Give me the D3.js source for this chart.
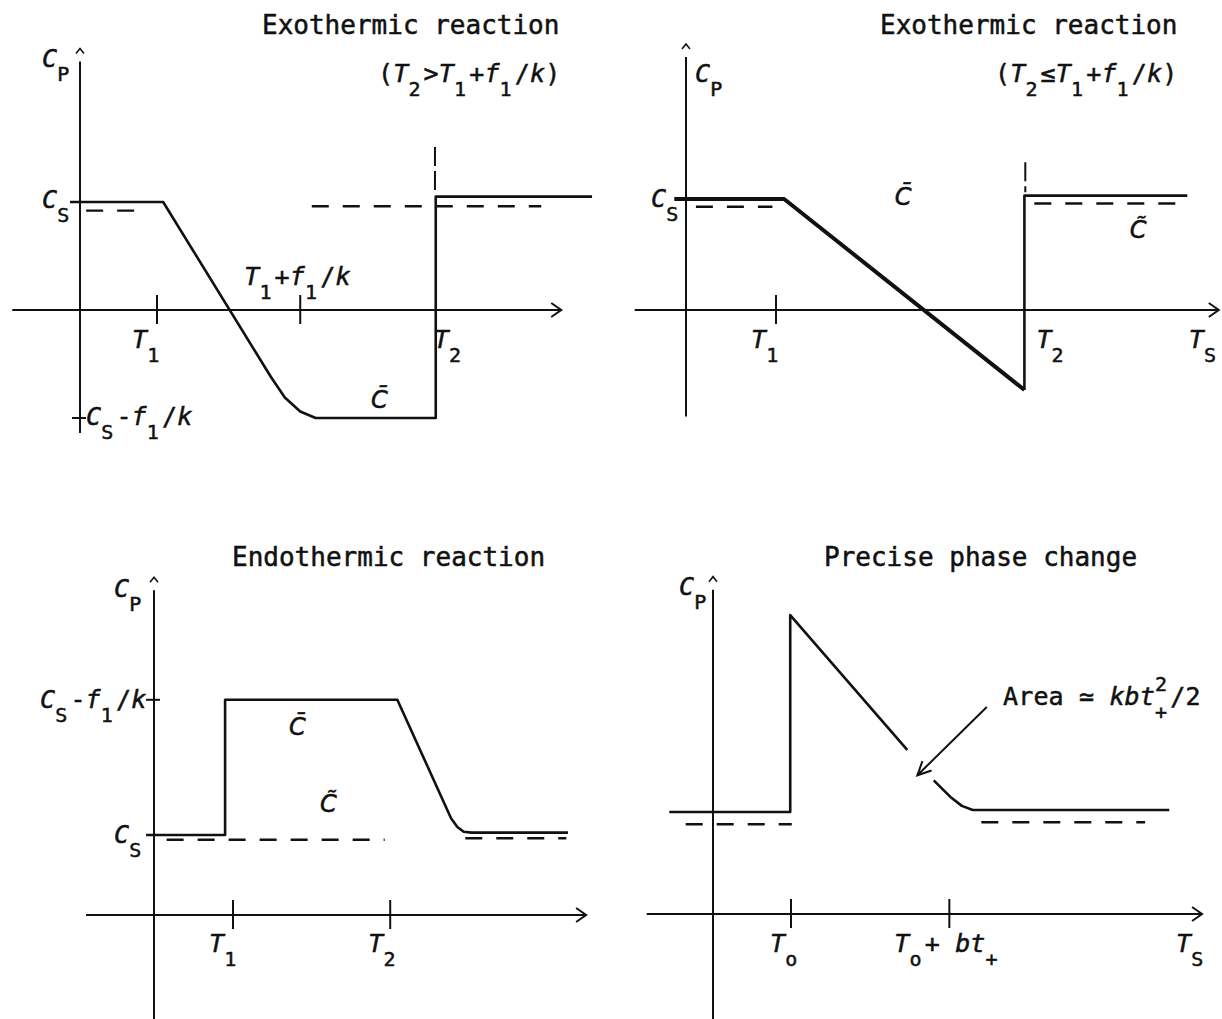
<!DOCTYPE html>
<html>
<head>
<meta charset="UTF-8">
<title>Cp sketches</title>
<script src="https://cdn.jsdelivr.net/npm/d3@7/dist/d3.min.js"></script>
<style>
body { margin:0; background:#fff; }
svg text { font-family:"DejaVu Sans Mono", monospace; fill:#111; stroke:#111; stroke-width:0.5px; }
.axis { fill:none; stroke:#111; stroke-width:2px; }
.curve { fill:none; stroke:#111; stroke-width:2.6px; stroke-linejoin:round; }
.thick { stroke-width:4px; }
.dash { fill:none; stroke:#111; stroke-width:2.4px; stroke-dasharray:17,14; }
.vdash { fill:none; stroke:#111; stroke-width:2px; stroke-dasharray:19,5; }
.title { font-size:26px; }
svg text.acc { font-family:"DejaVu Sans", sans-serif; }
</style>
</head>
<body>
<svg id="fig" width="1222" height="1019"></svg>
<script>
// ---- top left: exothermic, T2 > T1 + f1/k
var p1Curve = [[-0.13,1],[1.08,1],[2.48,-0.62],[2.66,-0.81],[2.86,-0.94],[3.06,-1],[4.62,-1],[4.62,1.05],[6.65,1.05]];
var p1DashA = [[0.08,0.92],[0.72,0.92]];
var p1DashB = [[3.01,0.96],[5.99,0.96]];
var p1Guide = [[4.61,1.51],[4.61,1.07]];
var p1XTicks = [1, 2.86];
var p1YTicks = [-1];
var p1XRange = [-0.88, 6.25], p1YRange = [-1.14, 2.3];

// ---- top right: exothermic, T2 <= T1 + f1/k
var p2Ramp = [[-0.13,1],[1.09,1],[3.76,-0.72]];
var p2Jump = [[3.76,-0.72],[3.76,1.03],[5.57,1.03]];
var p2DashA = [[0.11,0.93],[0.96,0.93]];
var p2DashB = [[3.87,0.96],[5.47,0.96]];
var p2Guide = [[3.77,1.33],[3.77,1.06]];
var p2XTicks = [1];
var p2XRange = [-0.57, 5.92], p2YRange = [-0.96, 2.28];

// ---- bottom left: endothermic
var p3Curve = [[-0.1,1],[0.9,1],[0.9,2.69],[3.08,2.69],[3.76,1.21],[3.84,1.1],[3.92,1.04],[4.02,1.03],[5.24,1.03]];
var p3DashA = [[0.16,0.94],[2.92,0.94]];
var p3DashB = [[3.94,0.96],[5.22,0.96]];
var p3XTicks = [1, 2.99];
var p3YTicks = [2.69];
var p3XRange = [-0.86, 5.47], p3YRange = [-1.3, 4.06];

// ---- bottom right: precise phase change
var p4Rise = [[-0.56,1],[0.99,1],[0.99,2.93],[2.49,1.61]];
var p4Tail = [[2.83,1.31],[3.04,1.15],[3.19,1.06],[3.33,1.02],[5.85,1.02]];
var p4DashA = [[-0.35,0.88],[1.01,0.88]];
var p4DashB = [[3.44,0.9],[5.54,0.9]];
var p4Pointer = [[3.51,2.03],[2.62,1.36]];
var p4XTicks = [1, 3.03];
var p4XRange = [-0.85, 6.27], p4YRange = [-1.03, 3.18];

var titles = ["Exothermic reaction", "Exothermic reaction", "Endothermic reaction", "Precise phase change"];

var svg = d3.select("#fig");
var CW = 15.2;

// one char per monospace cell; style r roman, i italic, b subscript, p superscript (no advance)
function label(g, x, y, parts) {
  var cell = 0;
  parts.forEach(function(p) {
    var chars = p[0].split(""), s = p[1];
    chars.forEach(function(c) {
      var dy = s == "b" ? 14 : s == "p" ? -14 : 0;
      g.append("text")
       .attr("x", x + cell*CW).attr("y", y + dy)
       .style("font-size", (s == "r" || s == "i") ? "25px" : "20px")
       .style("font-style", s == "i" ? "italic" : "normal")
       .text(c);
      if (s != "p") cell += 1;
    });
  });
}

// C with a mark above (bar or tilde), kept as one text
function accented(g, x, y, t) {
  g.append("text").attr("class", "acc").attr("x", x).attr("y", y)
   .style("font-size", "24px").style("font-style", "italic").text(t);
}

function frame(g, x, y, xr, yr, xt, yt) {
  var line = d3.line().x(function(d){return x(d[0]);}).y(function(d){return y(d[1]);});
  g.append("path").attr("class","axis").attr("d", line([[xr[0],0],[xr[1],0]]));
  g.append("path").attr("class","axis").attr("d", line([[0,yr[0]],[0,yr[1]]]));
  var xe = x(xr[1]), y0 = y(0), x0 = x(0), yt0 = y(yr[1]);
  g.append("path").attr("class","axis").attr("d", "M"+(xe-10)+","+(y0-7)+"L"+xe+","+y0+"L"+(xe-10)+","+(y0+7));
  g.append("path").attr("class","axis").style("stroke-width","1.6px")
   .attr("d", "M"+(x0-4)+","+(yt0-8)+"L"+x0+","+(yt0-13)+"L"+(x0+4)+","+(yt0-8));
  g.selectAll(null).data(xt).enter().append("line").attr("class","axis")
   .attr("x1", x).attr("x2", x).attr("y1", y0-15).attr("y2", y0+14);
  g.selectAll(null).data(yt || []).enter().append("line").attr("class","axis")
   .attr("y1", y).attr("y2", y).attr("x1", x0-8).attr("x2", x0+6);
  return line;
}

var BAR = "C\u0304", TIL = "C\u0303";

// panel 1
var x1 = d3.scaleLinear().domain([0,1]).range([80,157]);
var y1 = d3.scaleLinear().domain([0,1]).range([310,202]);
var g1 = svg.append("g");
var l1 = frame(g1, x1, y1, p1XRange, p1YRange, p1XTicks, p1YTicks);
g1.append("path").attr("class","curve").attr("d", l1(p1Curve));
g1.append("path").attr("class","dash").attr("d", l1(p1DashA));
g1.append("path").attr("class","dash").attr("d", l1(p1DashB));
g1.append("path").attr("class","vdash").attr("d", l1(p1Guide));
g1.append("text").attr("class","title").attr("x",262).attr("y",34).text(titles[0]);
label(g1, x1(0)-38, y1(2.25), [["C","i"],["P","b"]]);
label(g1, x1(0)-38, y1(1)+6, [["C","i"],["S","b"]]);
label(g1, x1(1)-25, y1(0)+38, [["T","i"],["1","b"]]);
label(g1, x1(4.62)-2, y1(0)+38, [["T","i"],["2","b"]]);
label(g1, x1(2.86)-56, y1(0)-25, [["T","i"],["1","b"],["+","r"],["f","i"],["1","b"],["/","r"],["k","i"]]);
label(g1, x1(0)+6, y1(-1)+7, [["C","i"],["S","b"],["-","r"],["f","i"],["1","b"],["/","r"],["k","i"]]);
label(g1, 378, 82, [["(","r"],["T","i"],["2","b"],[">","r"],["T","i"],["1","b"],["+","r"],["f","i"],["1","b"],["/","r"],["k","i"],[")","r"]]);
accented(g1, x1(3.78), y1(-1)-10, BAR);

// panel 2
var x2 = d3.scaleLinear().domain([0,1]).range([686,776]);
var y2 = d3.scaleLinear().domain([0,1]).range([310,199]);
var g2 = svg.append("g");
var l2 = frame(g2, x2, y2, p2XRange, p2YRange, p2XTicks, []);
g2.append("path").attr("class","curve thick").attr("d", l2(p2Ramp));
g2.append("path").attr("class","curve").attr("d", l2(p2Jump));
g2.append("path").attr("class","dash").attr("d", l2(p2DashA));
g2.append("path").attr("class","dash").attr("d", l2(p2DashB));
g2.append("path").attr("class","vdash").attr("d", l2(p2Guide));
g2.append("text").attr("class","title").attr("x",880).attr("y",34).text(titles[1]);
label(g2, x2(0)+9, 82, [["C","i"],["P","b"]]);
label(g2, x2(0)-35, y2(1)+8, [["C","i"],["S","b"]]);
label(g2, 995, 82, [["(","r"],["T","i"],["2","b"],["\u2264","r"],["T","i"],["1","b"],["+","r"],["f","i"],["1","b"],["/","r"],["k","i"],[")","r"]]);
accented(g2, x2(2.32), y2(1)+6, BAR);
accented(g2, x2(4.93), y2(1)+39, TIL);
label(g2, x2(1)-25, y2(0)+38, [["T","i"],["1","b"]]);
label(g2, x2(3.76)+12, y2(0)+38, [["T","i"],["2","b"]]);
label(g2, x2(p2XRange[1])-30, y2(0)+38, [["T","i"],["S","b"]]);

// panel 3
var x3 = d3.scaleLinear().domain([0,1]).range([154,233]);
var y3 = d3.scaleLinear().domain([0,1]).range([915,835]);
var g3 = svg.append("g");
var l3 = frame(g3, x3, y3, p3XRange, p3YRange, p3XTicks, p3YTicks);
g3.append("path").attr("class","curve").attr("d", l3(p3Curve));
g3.append("path").attr("class","dash").attr("d", l3(p3DashA));
g3.append("path").attr("class","dash").attr("d", l3(p3DashB));
g3.append("text").attr("class","title").attr("x",232).attr("y",566).text(titles[2]);
label(g3, x3(0)-40, 597, [["C","i"],["P","b"]]);
label(g3, x3(0)-114, y3(2.69)+8, [["C","i"],["S","b"],["-","r"],["f","i"],["1","b"],["/","r"],["k","i"]]);
label(g3, x3(0)-40, y3(1)+8, [["C","i"],["S","b"]]);
label(g3, x3(1)-24, y3(0)+37, [["T","i"],["1","b"]]);
label(g3, x3(2.99)-22, y3(0)+37, [["T","i"],["2","b"]]);
accented(g3, 289, 735, BAR);
accented(g3, 320, 812, TIL);

// panel 4
var x4 = d3.scaleLinear().domain([0,1]).range([713,791]);
var y4 = d3.scaleLinear().domain([0,1]).range([914,812]);
var g4 = svg.append("g");
var l4 = frame(g4, x4, y4, p4XRange, p4YRange, p4XTicks, []);
g4.append("path").attr("class","curve").attr("d", l4(p4Rise));
g4.append("path").attr("class","curve").attr("d", l4(p4Tail));
g4.append("path").attr("class","dash").attr("d", l4(p4DashA));
g4.append("path").attr("class","dash").attr("d", l4(p4DashB));
var pa = p4Pointer.map(function(d){return [x4(d[0]), y4(d[1])];});
var ang = Math.atan2(pa[0][1]-pa[1][1], pa[0][0]-pa[1][0]);
var head = [ang-0.45, ang+0.45].map(function(a){return [pa[1][0]+15*Math.cos(a), pa[1][1]+15*Math.sin(a)];});
g4.append("path").attr("class","axis").attr("d", d3.line()(pa));
g4.append("path").attr("class","axis").attr("d", d3.line()([head[0], pa[1], head[1]]));
g4.append("text").attr("class","title").attr("x",824).attr("y",566).text(titles[3]);
label(g4, x4(0)-34, 595, [["C","i"],["P","b"]]);
label(g4, x4(1)-21, y4(0)+38, [["T","i"],["o","b"]]);
label(g4, x4(3.03)-55, y4(0)+38, [["T","i"],["o","b"],["+ ","r"],["bt","i"],["+","b"]]);
label(g4, x4(p4XRange[1])-26, y4(0)+38, [["T","i"],["S","b"]]);
label(g4, 1003, 705, [["Area ","r"],["\u2243","r"],[" ","r"],["kbt","i"],["2","p"],["+","b"],["/2","r"]]);
</script>
</body>
</html>
